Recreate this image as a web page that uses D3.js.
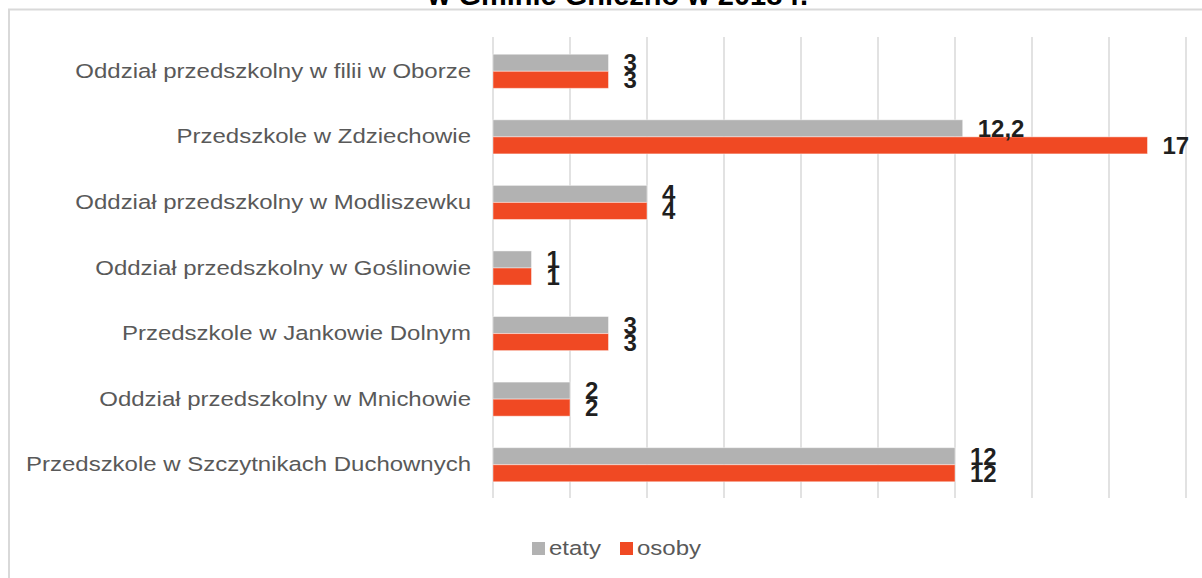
<!DOCTYPE html>
<html>
<head>
<meta charset="utf-8">
<script src="https://cdn.jsdelivr.net/npm/d3@7"></script>
<style>
  html, body { margin: 0; padding: 0; background: #fff; }
  svg { display: block; font-family: "Liberation Sans", Arial, sans-serif; }
</style>
</head>
<body>
<svg id="chart" width="1202" height="578"></svg>
<script>
const titleText = "w Gminie Gniezno w 2018 r.";
const categories = [
  "Oddział przedszkolny w filii w Oborze",
  "Przedszkole w Zdziechowie",
  "Oddział przedszkolny w Modliszewku",
  "Oddział przedszkolny w Goślinowie",
  "Przedszkole w Jankowie Dolnym",
  "Oddział przedszkolny w Mnichowie",
  "Przedszkole w Szczytnikach Duchownych"
];
const seriesNames = ["etaty", "osoby"];
const etaty = [3, 12.2, 4, 1, 3, 2, 12];
const osoby = [3, 17, 4, 1, 3, 2, 12];
const xTicks = [0, 2, 4, 6, 8, 10, 12, 14, 16, 18];
const colors = ["#b2b2b2", "#f04923"];

const svg = d3.select("#chart");

// chart frame (cut off at right and bottom)
svg.append("path")
  .attr("d", "M9,1000 L9,9.5 L1300,9.5")
  .attr("fill", "none")
  .attr("stroke", "#d9d9d9")
  .attr("stroke-width", 2);

// title (partially visible at top)
svg.append("text")
  .attr("x", 618)
  .attr("y", 4.5)
  .attr("text-anchor", "middle")
  .attr("font-size", 29)
  .attr("font-weight", "bold")
  .attr("fill", "#000")
  .text(titleText);

const x = d3.scaleLinear().domain([0, 18]).range([493, 1186]);
const y = d3.scaleBand().domain(categories).range([38.5, 497.5])
  .paddingInner(0.48).paddingOuter(0.24);
const ySub = d3.scaleBand().domain(seriesNames).range([0, y.bandwidth()]);

// gridlines
svg.append("g")
  .selectAll("line")
  .data(xTicks)
  .join("line")
  .attr("x1", d => x(d)).attr("x2", d => x(d))
  .attr("y1", 37).attr("y2", 498)
  .attr("stroke", "#d9d9d9")
  .attr("stroke-width", 1.5);

// category axis
const yAxis = svg.append("g")
  .attr("transform", "translate(471,0)")
  .call(d3.axisLeft(y).tickSize(0).tickPadding(0));
yAxis.select(".domain").remove();
yAxis.selectAll("text")
  .attr("x", 0)
  .attr("font-family", "'Liberation Sans', Arial, sans-serif")
  .attr("font-size", 20.5)
  .attr("transform", "scale(1.17,1)")
  .attr("fill", "#595959");

const data = categories.map((c, i) => ({ cat: c, values: [
  { key: "etaty", v: etaty[i] },
  { key: "osoby", v: osoby[i] }
]}));

const groups = svg.append("g").selectAll("g")
  .data(data).join("g")
  .attr("transform", d => `translate(0,${y(d.cat)})`);

groups.selectAll("rect")
  .data(d => d.values)
  .join("rect")
  .attr("x", x(0))
  .attr("y", d => ySub(d.key))
  .attr("width", d => x(d.v) - x(0))
  .attr("height", ySub.bandwidth())
  .attr("fill", d => colors[seriesNames.indexOf(d.key)])
  .attr("stroke", "rgba(255,255,255,0.45)")
  .attr("stroke-width", 1);

const fmt = v => String(v).replace(".", ",");
groups.selectAll("text.lbl")
  .data(d => d.values)
  .join("text")
  .attr("class", "lbl")
  .attr("x", d => x(d.v) + 15)
  .attr("y", d => ySub(d.key) + ySub.bandwidth() / 2 + 8.5)
  .attr("font-size", 24)
  .attr("font-weight", "bold")
  .attr("fill", "#1f1f1f")
  .text(d => fmt(d.v));

// legend
const legend = svg.append("g");
const legendItems = [
  { name: "etaty", sx: 532, tx: 549 },
  { name: "osoby", sx: 620, tx: 637 }
];
legend.selectAll("rect")
  .data(legendItems).join("rect")
  .attr("x", d => d.sx).attr("y", 542)
  .attr("width", 13).attr("height", 13)
  .attr("fill", (d, i) => colors[i]);
legend.selectAll("text")
  .data(legendItems).join("text")
  .attr("transform", d => `translate(${d.tx},555) scale(1.17,1)`)
  .attr("font-size", 20.5)
  .attr("fill", "#595959")
  .text(d => d.name);
</script>
</body>
</html>
